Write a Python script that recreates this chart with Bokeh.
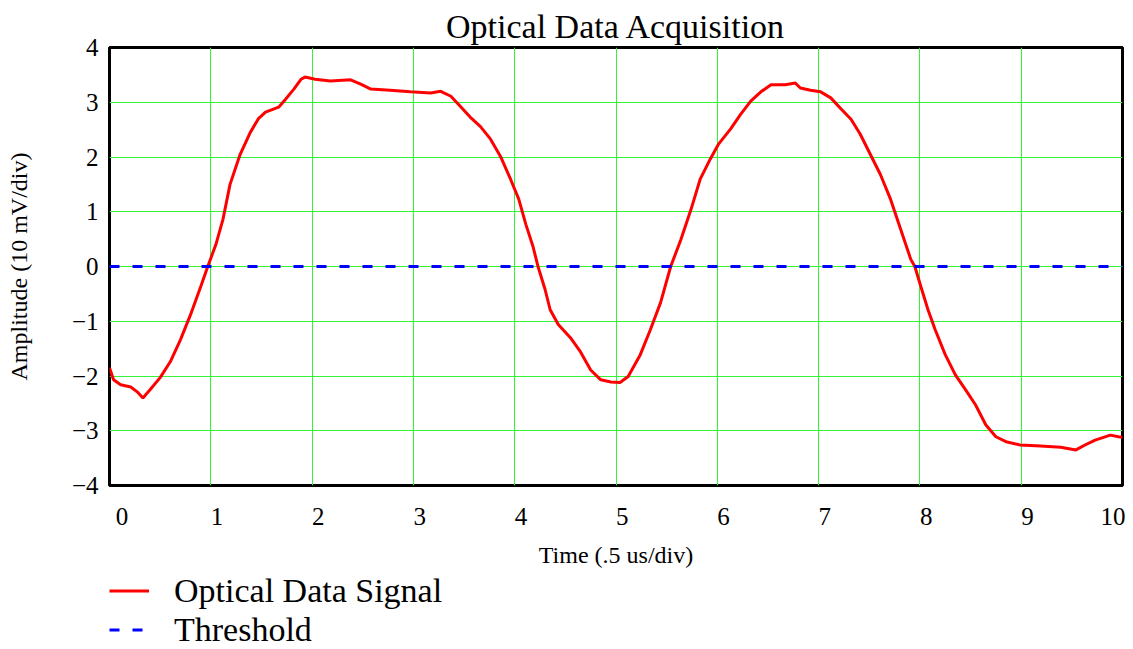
from bokeh.plotting import figure
from bokeh.models import Legend, LegendItem, FixedTicker
from bokeh.layouts import column
from bokeh.embed import file_html
from bokeh.resources import INLINE

# Time (.5 us/div) and amplitude (10 mV/div)
time = [0.00, 0.04, 0.11, 0.21, 0.28, 0.33, 0.40, 0.50, 0.60, 0.70, 0.80, 0.90, 0.97,
        1.05, 1.12, 1.19, 1.29, 1.39, 1.47, 1.54, 1.67, 1.74, 1.82, 1.89, 1.93, 2.03,
        2.18, 2.38, 2.48, 2.58, 2.77, 2.97, 3.17, 3.27, 3.37, 3.46, 3.56, 3.66, 3.76,
        3.86, 3.96, 4.04, 4.11, 4.18, 4.23, 4.30, 4.35, 4.43, 4.55, 4.65, 4.75, 4.85,
        4.95, 5.04, 5.12, 5.24, 5.34, 5.44, 5.54, 5.64, 5.74, 5.83, 5.93, 6.01, 6.13,
        6.23, 6.33, 6.43, 6.53, 6.67, 6.77, 6.82, 6.92, 7.02, 7.12, 7.22, 7.32, 7.41,
        7.51, 7.61, 7.71, 7.81, 7.91, 7.95, 8.01, 8.08, 8.15, 8.25, 8.35, 8.45, 8.55,
        8.65, 8.75, 8.85, 8.99, 9.19, 9.39, 9.54, 9.63, 9.73, 9.88, 9.96, 10.00]
signal = [-1.85, -2.07, -2.16, -2.20, -2.30, -2.40, -2.25, -2.03, -1.74, -1.34, -0.88, -0.37, 0.00,
          0.40, 0.86, 1.50, 2.05, 2.45, 2.70, 2.82, 2.91, 3.06, 3.24, 3.42, 3.46, 3.42,
          3.39, 3.41, 3.33, 3.24, 3.22, 3.19, 3.17, 3.20, 3.11, 2.93, 2.73, 2.56, 2.33,
          2.01, 1.59, 1.23, 0.77, 0.37, 0.00, -0.42, -0.79, -1.06, -1.30, -1.56, -1.89, -2.07,
          -2.11, -2.12, -2.01, -1.61, -1.15, -0.66, 0.00, 0.49, 1.04, 1.59, 1.96, 2.23, 2.51,
          2.78, 3.02, 3.19, 3.32, 3.32, 3.35, 3.26, 3.22, 3.19, 3.08, 2.88, 2.69, 2.42,
          2.05, 1.68, 1.23, 0.68, 0.13, 0.00, -0.37, -0.79, -1.15, -1.61, -1.98, -2.25, -2.53,
          -2.89, -3.11, -3.20, -3.26, -3.28, -3.30, -3.35, -3.26, -3.17, -3.08, -3.11, -3.12]
threshold_t = [0, 10]
threshold_v = [0, 0]
x_ticks = [0, 1, 2, 3, 4, 5, 6, 7, 8, 9, 10]
y_ticks = [-4, -3, -2, -1, 0, 1, 2, 3, 4]
series_names = ["Optical Data Signal", "Threshold"]

FONT = "Liberation Serif"
NB = "\u00a0"

p = figure(width=1125, height=570, output_backend="svg", toolbar_location=None,
           x_range=(0, 10), y_range=(-4, 4),
           title="Optical Data Acquisition",
           min_border_left=109, min_border_right=3, min_border_top=47,
           min_border_bottom=85)

p.title.text_font = FONT
p.title.text_font_size = "34px"
p.title.text_font_style = "normal"
p.title.text_color = "black"
p.title.align = "center"
p.title.standoff = 5

p.xaxis.ticker = FixedTicker(ticks=x_ticks)
p.yaxis.ticker = FixedTicker(ticks=y_ticks)

x_over = {}
for v in x_ticks:
    if v == x_ticks[0]:
        x_over[v] = NB * 4 + str(v)
    elif v == x_ticks[-1]:
        x_over[v] = str(v)
    else:
        x_over[v] = NB * 2 + str(v)
p.xaxis.major_label_overrides = x_over
p.yaxis.major_label_overrides = {v: ("\u2212" + str(-v) if v < 0 else str(v)) for v in y_ticks}

for ax in (p.xaxis[0], p.yaxis[0]):
    ax.axis_line_color = None
    ax.major_tick_line_color = None
    ax.minor_tick_line_color = None
    ax.major_tick_out = 0
    ax.major_tick_in = 0
    ax.major_label_text_font = FONT
    ax.major_label_text_font_size = "25px"
    ax.major_label_text_color = "black"
    ax.axis_label_text_font = FONT
    ax.axis_label_text_font_size = "24px"
    ax.axis_label_text_font_style = "normal"
    ax.axis_label_text_color = "black"

p.xaxis.axis_label = "Time (.5 us/div)"
p.yaxis.axis_label = "Amplitude (10 mV/div)"
p.xaxis.major_label_standoff = 17
p.xaxis.axis_label_standoff = 9
p.yaxis.major_label_standoff = 11
p.yaxis.axis_label_standoff = 37

p.grid.grid_line_color = "#33f533"
p.grid.grid_line_width = 1
p.outline_line_color = "black"
p.outline_line_width = 3

p.line(time, signal, line_color="red", line_width=3)
p.line(threshold_t, threshold_v, line_color="blue", line_width=3, line_dash="10 13")

# legend strip below the chart (single-point lines only serve as legend keys)
p2 = figure(width=1125, height=79, output_backend="svg", toolbar_location=None,
            x_range=(0, 1), y_range=(0, 1), x_axis_type=None, y_axis_type=None,
            min_border=0)
p2.grid.visible = False
p2.outline_line_color = None
l1 = p2.line([threshold_t[0]], [threshold_v[0]], line_color="red", line_width=3)
l2 = p2.line([threshold_t[0]], [threshold_v[0]], line_color="blue", line_width=3, line_dash="10 13")
legend = Legend(items=[LegendItem(label=series_names[0], renderers=[l1]),
                       LegendItem(label=series_names[1], renderers=[l2])],
                location=(0, 0), orientation="vertical",
                label_text_font=FONT, label_text_font_size="34px",
                label_text_color="black",
                glyph_width=40, label_standoff=25, padding=0, margin=0, spacing=0,
                border_line_color=None, background_fill_alpha=0)
legend.label_height = 39
legend.glyph_height = 39
p2.add_layout(legend, "center")

layout = column(p, p2, spacing=0)
open("out.html", "w").write(file_html(layout, INLINE))
